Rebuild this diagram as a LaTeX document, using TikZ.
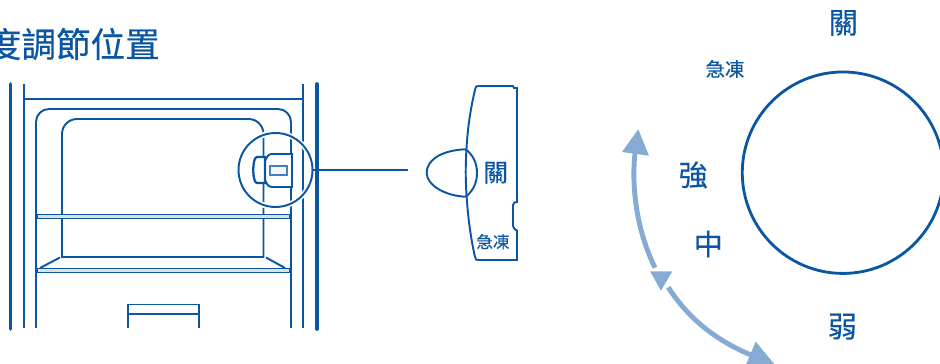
\documentclass[tikz,border=0pt]{standalone}
\usepackage{fontspec}
\newfontfamily\cjk[FakeBold=0.4]{Noto Sans CJK TC}
\definecolor{lineblue}{HTML}{0A56A3}
\definecolor{arcblue}{HTML}{85ABD2}
\tikzset{
    thinline/.style={draw=lineblue, line width=1.1pt},
    thickline/.style={draw=lineblue, line width=2.1pt, line cap=round},
    arcline/.style={draw=arcblue, line width=2.8pt},
    label/.style={text=lineblue, inner sep=0pt},
}
\begin{document}
\begin{tikzpicture}[x=0.02cm, y=-0.02cm, font=\cjk]
    \useasboundingbox (0,0) rectangle (940,364);
    \clip (0,0) rectangle (940,364);
    \node[label, font=\cjk\fontsize{19.7}{20}\selectfont] (title) at (73.3,44) {度調節位置};
    % fridge
    \draw[thickline] (10.5,84) -- (10.5,329);
    \draw[thickline] (317,84) -- (317,329);
    \draw[thinline] (24,84) -- (24,328);
    \draw[thinline] (303,84) -- (303,328);
    \draw[thinline] (23,99) -- (303,99);
    \draw[thinline, rounded corners=0.26cm] (36,328) -- (36,109) -- (291,109) -- (291,328);
    \draw[thinline] (62,257) [rounded corners=0.3cm] -- (62,119) -- (263.5,119) [sharp corners] -- (263.5,257) -- cycle;
    \draw[thinline] (40,268) -- (60,257.5);
    \draw[thinline] (266,257.5) -- (285,268);
    \draw[thinline, fill=black!12] (37,214.5) rectangle (290,218.5);
    \draw[thinline, fill=black!12] (37,268.5) rectangle (290,272.5);
    \draw[thinline] (128,328) -- (128,304.5) -- (199,304.5) -- (199,328);
    \draw[thinline] (128,314) -- (200,314);
    % lens
    \draw[thinline, fill=white] (265,161) .. controls (267,157) and (268,154) .. (272,154) -- (292,154) -- (292,187) -- (272,187) .. controls (268,187) and (267,184) .. (265,180) -- cycle;
    \draw[thinline, line width=1.3pt, fill=white] (265,157) -- (257,157) .. controls (252,157) and (252,183) .. (257,183) -- (265,183) -- cycle;
    \draw[draw=lineblue!75, line width=0.7pt, fill=arcblue!10] (270,166) rectangle (287,175);
    \node[circle, thinline, minimum size=1.48cm, inner sep=0pt, preaction={draw=white, line width=3pt}] (lens) at (275.5,170) {};
    \coordinate (leaderend) at (408,170);
    \draw[thinline] (lens) -- (leaderend);
    % panel
    \draw[thinline] (475,90) .. controls (469,115) and (466,140) .. (465.7,172) .. controls (466,205) and (470,235) .. (475,257) .. controls (476,260) .. (479,260) -- (517,260) -- (517,230.5) -- (514.5,229) -- (513,226) -- (513,205) -- (514.5,202.5) -- (517,202) -- (517,88) -- (514,88) -- (513,86) -- (479,86) .. controls (476,86) .. cycle;
    \draw[thinline] (465.7,149.3) .. controls (445,150) and (426.7,158) .. (426.7,173) .. controls (426.7,185) and (445,196) .. (465.7,196.7);
    \draw[thinline] (465.7,149.3) .. controls (473,155) and (477,163) .. (477,173) .. controls (477,183) and (473,191) .. (465.7,196.7);
    \node[label, font=\cjk\fontsize{14}{14}\selectfont] (paneloff) at (495.7,172.7) {關};
    \node[label, font=\cjk\fontsize{9.4}{10}\selectfont] (panelfast) at (493,241.7) {急凍};
    % dial
    \node[circle, draw=lineblue, line width=1.6pt, minimum size=4.03cm, inner sep=0pt] (dial) at (843,172.7) {};
    \node[label, font=\cjk\fontsize{16.6}{17}\selectfont] (off) at (843.3,23) {關};
    \node[label, font=\cjk\fontsize{11}{11}\selectfont] (fast) at (725,69) {急凍};
    \node[label, font=\cjk\fontsize{16.6}{17}\selectfont] (strong) at (693.3,175) {強};
    \node[label, font=\cjk\fontsize{16.6}{17}\selectfont] (medium) at (708.3,244) {中};
    \node[label, font=\cjk\fontsize{16.6}{17}\selectfont] (weak) at (842.3,326.7) {弱};
    % arrows
    \draw[arcline] (635,153) .. controls (632,180) and (634,225) .. (655,267.7);
    \draw[arcline] (668.3,287.3) .. controls (688,318) and (715,340) .. (751,355);
    \fill[arcblue] (638.3,129.3) -- (622,152) -- (649,155.7) -- cycle;
    \fill[arcblue] (661,290.7) -- (650,271.3) -- (672.3,271.3) -- cycle;
    \fill[arcblue] (776,366) -- (755.7,341.7) -- (745,367) -- cycle;
\end{tikzpicture}
\end{document}
